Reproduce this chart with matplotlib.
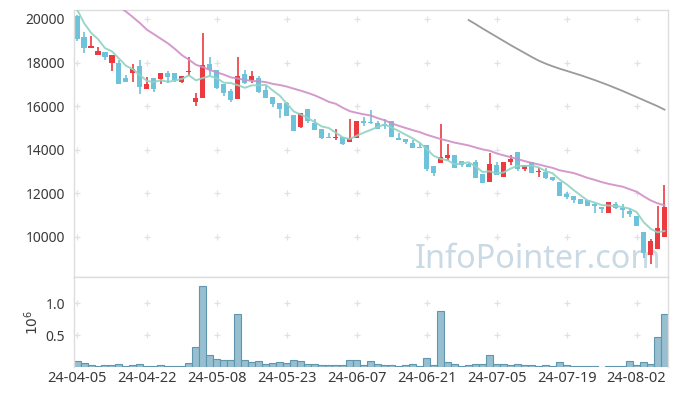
import numpy as np
import pandas as pd
import matplotlib
matplotlib.use("Agg")
import matplotlib.pyplot as plt


###########################################################################
# rcParams setting
###########################################################################

plt.rcParams["font.family"] = ["Noto Sans", "DejaVu Sans"]
plt.rcParams["font.size"] = 10
plt.rcParams["axes.edgecolor"] = "#dddddd"
plt.rcParams["axes.linewidth"] = 1.0
plt.rcParams["xtick.color"] = "#3a3a3a"
plt.rcParams["ytick.color"] = "#3a3a3a"
plt.rcParams["xtick.major.size"] = 0
plt.rcParams["ytick.major.size"] = 0


###########################################################################
# Data
###########################################################################

# trading days (KRX holidays removed)
holidays = ["2024-04-10", "2024-05-01", "2024-05-06", "2024-05-15", "2024-06-06"]
dates = pd.bdate_range("2024-04-05", "2024-08-08", freq="C", holidays=holidays)

opens = [20140, 19160, 18680, 18350, 18490, 17970, 17980, 17280, 17510, 17840,
         16800, 17280, 17260, 17510, 17510, 17120, 17580, 16180, 16390, 17940,
         17660, 17000, 16700, 16320, 17480, 17200, 17280, 16740, 16440, 16130,
         16160, 15600, 15060, 15860, 15240, 14940, 14600, 14540, 14600, 14370,
         14560, 15320, 15290, 15220, 15170, 15320, 14560, 14480, 14330, 14140,
         14220, 13260, 13410, 13640, 13760, 13490, 13340, 13430, 12880, 12540,
         13300, 12770, 13430, 13890, 13120, 13430, 13000, 13000, 12770, 12540,
         11960, 11880, 11740, 11700, 11500, 11360, 11120, 11500, 11320, 11190,
         10960, 10220, 9180, 9440, 10010]
highs = [20200, 19390, 19220, 18730, 18490, 18350, 18120, 17430, 17920, 18120,
         17330, 17280, 17510, 17620, 17510, 17390, 18270, 16620, 19370, 18240,
         17660, 17000, 16780, 18270, 17660, 17620, 17390, 16930, 16440, 16130,
         16200, 15600, 15670, 15860, 15400, 14940, 14790, 14940, 14600, 15400,
         15320, 15520, 15830, 15320, 15400, 15320, 14760, 14480, 14450, 14330,
         14220, 13260, 15170, 14250, 13780, 13490, 13400, 13530, 12880, 13840,
         13450, 13430, 13760, 13890, 13300, 13450, 13150, 13150, 12770, 12540,
         12050, 11900, 11740, 11700, 11560, 11360, 11590, 11620, 11500, 11320,
         10960, 10220, 9910, 11440, 12390]
lows = [19000, 18430, 18680, 18350, 18120, 17620, 17030, 17120, 17120, 16550,
        16800, 16660, 17000, 17080, 17120, 17050, 17390, 16010, 16390, 17390,
        16780, 16470, 16210, 16320, 17000, 17080, 16620, 16360, 15980, 15470,
        15550, 14880, 14990, 15220, 14910, 14480, 14530, 14440, 14210, 14370,
        14560, 15090, 15170, 14940, 14940, 14600, 14450, 14250, 14070, 14100,
        13030, 12810, 13410, 13530, 13180, 13200, 13220, 12690, 12490, 12540,
        12840, 12770, 13300, 13030, 13040, 12950, 12770, 12680, 12570, 11880,
        11730, 11570, 11500, 11440, 11090, 11100, 11120, 11290, 10880, 10930,
        10520, 9050, 8750, 9440, 10010]
closes = [19100, 18680, 18760, 18530, 18240, 18350, 17030, 17120, 17710, 16900,
          17020, 16800, 17510, 17350, 17200, 17390, 17620, 16360, 17890, 17660,
          16850, 16620, 16280, 17390, 17080, 17390, 16670, 16360, 16090, 15890,
          15550, 14880, 15670, 15320, 14910, 14560, 14530, 14590, 14250, 14530,
          15320, 15240, 15220, 14940, 15090, 14600, 14450, 14360, 14100, 14100,
          13110, 12950, 13660, 13760, 13180, 13300, 13230, 12690, 12490, 13350,
          12840, 13430, 13580, 13120, 13300, 12950, 13020, 12720, 12620, 11880,
          11850, 11700, 11500, 11440, 11420, 11270, 11590, 11350, 11240, 11040,
          10520, 9280, 9820, 10400, 11360]
volumes = [84000, 53000, 21000, 5000, 21000, 21000, 37000, 5000, 21000, 37000,
           5000, 5000, 21000, 5000, 5000, 5000, 53000, 305000, 1268000, 179000,
           116000, 100000, 100000, 832000, 100000, 68000, 84000, 37000, 53000, 68000,
           53000, 100000, 84000, 37000, 37000, 21000, 21000, 21000, 21000, 105000,
           105000, 21000, 90000, 37000, 21000, 21000, 5000, 21000, 37000, 5000,
           132000, 21000, 874000, 68000, 37000, 5000, 21000, 37000, 37000, 179000,
           37000, 37000, 21000, 37000, 21000, 21000, 5000, 21000, 5000, 68000,
           21000, 5000, 5000, 5000, 5000, 2000, 5000, 5000, 5000, 84000,
           21000, 68000, 37000, 463000, 832000]

# closes of the 19 sessions before the first shown day (for the moving averages)
prior_closes = [23300, 23100, 22800, 23000, 22600, 22400, 21720, 22910, 22300, 23120,
                20900, 21710, 21550, 22300, 23090, 21800, 21000, 20000, 20300]

# long moving average, only shown from 2024-06-24 on
ma_long_start = 56
ma_long = [19950, 19760, 19560, 19370, 19180, 18990, 18800, 18620, 18440, 18260,
           18090, 17950, 17830, 17720, 17620, 17520, 17420, 17310, 17200, 17080,
           16960, 16830, 16700, 16560, 16420, 16280, 16140, 16000, 15840]


###########################################################################
# Plot
###########################################################################

o = np.array(opens, dtype=float)
h = np.array(highs, dtype=float)
l = np.array(lows, dtype=float)
c = np.array(closes, dtype=float)
v = np.array(volumes, dtype=float) / 1e6
x = np.arange(len(c))

allc = pd.Series(np.concatenate([prior_closes, c]))
n0 = len(prior_closes)
ma5 = allc.rolling(5).mean().values[n0:]
ma20 = allc.rolling(20).mean().values[n0:]

up_col = "#ec3a3f"
down_col = "#6ec2d9"
cols = [up_col if cc >= oo else down_col for oo, cc in zip(o, c)]

fig = plt.figure(figsize=(6.77, 3.96), dpi=100)
ax = fig.add_axes([0.1086, 0.2997, 0.8781, 0.6750])
axv = fig.add_axes([0.1086, 0.0740, 0.8781, 0.2257], sharex=ax)

# candles
ax.vlines(x, l, h, colors=cols, linewidth=1.2, zorder=2)
body = np.maximum(np.abs(c - o), 25)
ax.bar(x, body, bottom=np.minimum(o, c), width=0.72, color=cols, linewidth=0, zorder=2)

# moving averages
ax.plot(x, ma5, color="#8fd3c3", linewidth=1.4, alpha=0.9, zorder=3)
ax.plot(x, ma20, color="#cf8fc6", linewidth=1.4, alpha=0.9, zorder=3)
ax.plot(x[ma_long_start:], ma_long, color="#9a9a9a", linewidth=1.3, zorder=3)

# volume
axv.bar(x, v, width=1.0, color="#97bfd0", edgecolor="#5f96ae", linewidth=0.8)

# grid as small crosses
xt = np.arange(0, len(x), 10)
yt = np.arange(10000, 20001, 2000)
gx, gy = np.meshgrid(xt, yt)
ax.scatter(gx.ravel(), gy.ravel(), marker="+", s=16, color="#e2e2e2", linewidths=0.9, zorder=1)
vt = [0.5, 1.0]
gx, gy = np.meshgrid(xt, vt)
axv.scatter(gx.ravel(), gy.ravel(), marker="+", s=16, color="#e2e2e2", linewidths=0.9, zorder=1)

# watermark
ax.text(0.781, 0.035, "InfoPointer.com", transform=ax.transAxes, fontsize=23.3,
        color="#c9dae5", ha="center", va="baseline", zorder=0)

# axes settings
ax.set_xlim(-0.5, len(x) - 0.5)
ax.set_ylim(8150, 20410)
ax.set_yticks(yt)
ax.tick_params(axis="x", labelbottom=False)
ax.tick_params(axis="y", pad=6)

axv.set_ylim(0, 1.41)
axv.set_yticks(vt)
axv.set_yticklabels(["0.5", "1.0"])
axv.set_xticks(xt)
axv.set_xticklabels([dates[i].strftime("%y-%m-%d") for i in xt], fontsize=10.5)
axv.tick_params(axis="y", pad=6)
axv.tick_params(axis="x", pad=3)
axv.set_ylabel(r"$10^6$", color="#3a3a3a", labelpad=3)
axv.spines["bottom"].set_visible(False)

# save
plt.savefig("out.png", dpi=100)
